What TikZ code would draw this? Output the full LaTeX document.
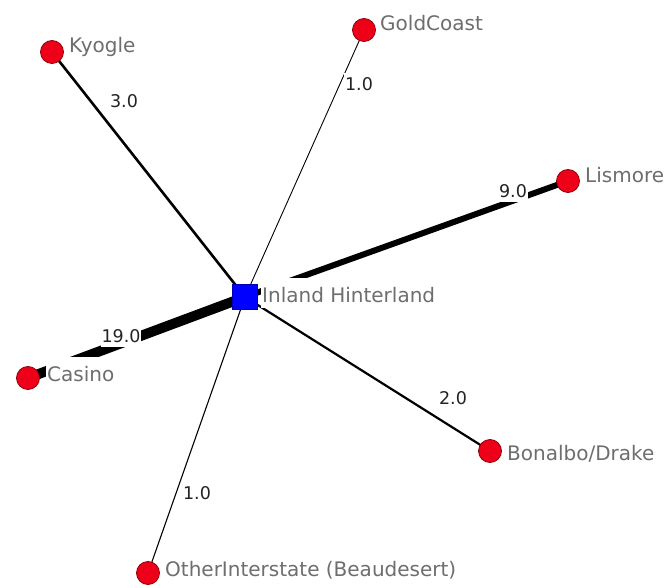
\documentclass[tikz,border=0pt]{standalone}
\usepackage{fontspec}
\setmainfont{DejaVu Sans}
\definecolor{nodered}{RGB}{238,0,24}
\definecolor{nodeborder}{RGB}{140,0,10}
\definecolor{hubblue}{RGB}{0,0,255}
\definecolor{labelgrey}{RGB}{110,110,110}
\definecolor{edgetext}{RGB}{35,35,35}
\tikzset{
  actor/.style={circle, fill=nodered, draw=nodeborder, line width=0.8pt, minimum size=23pt, inner sep=0pt},
  hub/.style={rectangle, fill=hubblue, draw=hubblue!70!black, line width=0.5pt, minimum size=25pt, inner sep=0pt},
  namelabel/.style={anchor=base west, fill=white, inner xsep=1pt, inner ysep=5pt, text height=19pt, text depth=1pt, text=labelgrey, font=\fontsize{20}{24}\selectfont},
  weightlabel/.style={anchor=center, fill=white, inner xsep=1pt, inner ysep=4pt, text=edgetext, font=\fontsize{17.5}{21}\selectfont},
  tie/.style={draw=black, line cap=butt}
}
\begin{document}
\begin{tikzpicture}[x=1pt,y=-1pt]
\useasboundingbox (0,0) rectangle (667,588);
% node positions
\coordinate (pHub) at (245,297);
\coordinate (pKyo) at (52,52);
\coordinate (pGold) at (364,30);
\coordinate (pLis) at (568,181);
\coordinate (pCas) at (28,378);
\coordinate (pBon) at (490,451);
\coordinate (pOth) at (148,573);
% edges
\draw[tie, line width=2.6pt] (pHub) -- (pKyo);
\draw[tie, line width=0.9pt] (pHub) -- (pGold);
\draw[tie, line width=6pt] (pHub) -- (pLis);
\draw[tie, line width=10pt] (pHub) -- (pCas);
\draw[tie, line width=2.2pt] (pHub) -- (pBon);
\draw[tie, line width=1.1pt] (pHub) -- (pOth);
% edge weights
\node[weightlabel] (wKyo) at (124,101) {3.0};
\node[weightlabel] (wGold) at (359,84) {1.0};
\node[weightlabel] (wLis) at (513,191) {9.0};
\node[weightlabel] (wCas) at (121,336) {19.0};
\node[weightlabel] (wBon) at (453,398) {2.0};
\node[weightlabel] (wOth) at (197,493) {1.0};
% name labels
\node[namelabel] (lKyo) at (68,53) {Kyogle};
\node[namelabel] (lGold) at (379,31) {GoldCoast};
\node[namelabel] (lLis) at (584,183) {Lismore};
\node[namelabel] (lHub) at (261,302) {Inland Hinterland};
\node[namelabel] (lCas) at (46,381) {Casino};
\node[namelabel] (lBon) at (506,460) {Bonalbo/Drake};
\node[namelabel] (lOth) at (164,576) {OtherInterstate (Beaudesert)};
% nodes
\node[hub] (hub) at (pHub) {};
\node[actor] (kyo) at (pKyo) {};
\node[actor] (gold) at (pGold) {};
\node[actor] (lis) at (pLis) {};
\node[actor] (cas) at (pCas) {};
\node[actor] (bon) at (pBon) {};
\node[actor] (oth) at (pOth) {};
\end{tikzpicture}
\end{document}
